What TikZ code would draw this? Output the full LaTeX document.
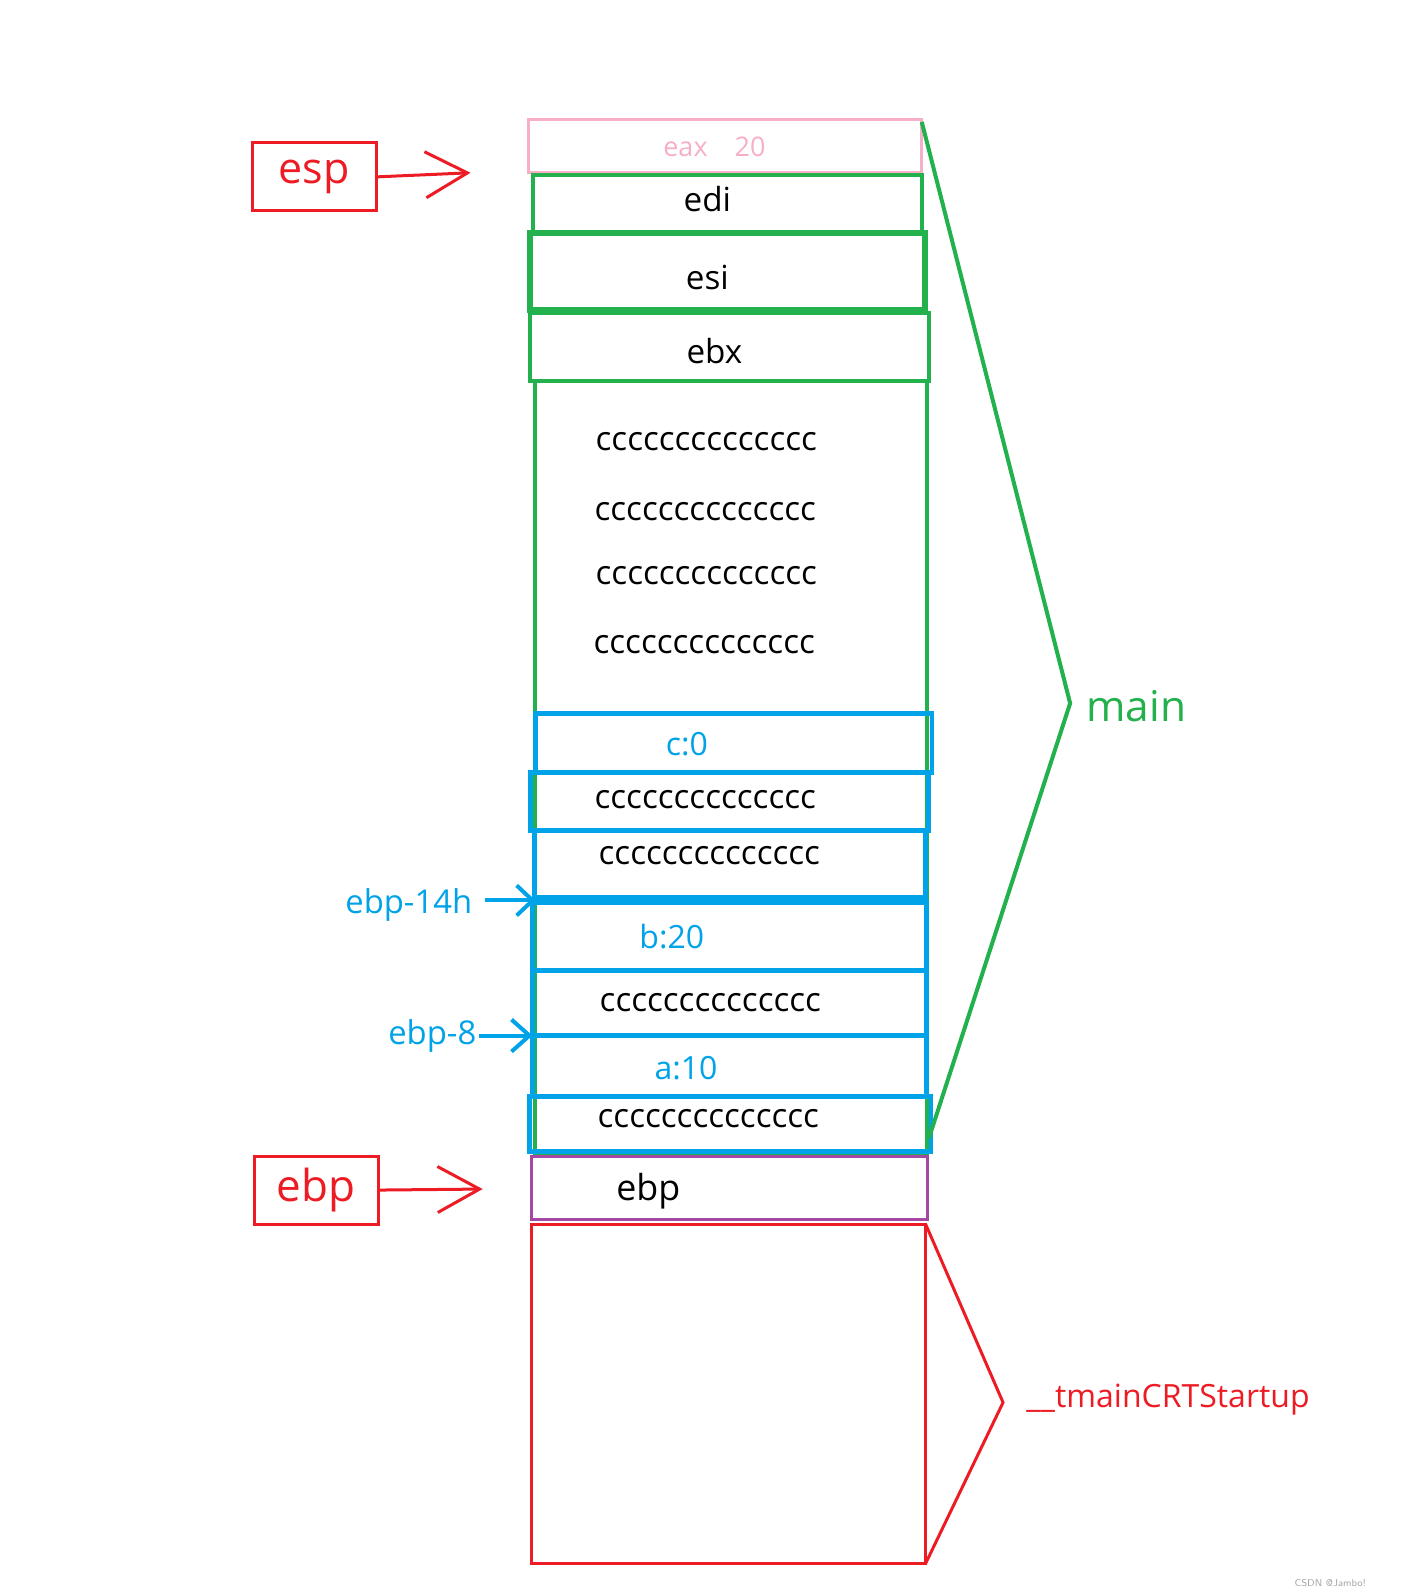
\documentclass[tikz,border=0pt]{standalone}
\usepackage{fontspec}
\setmainfont{Open Sans}
\usetikzlibrary{arrows.meta}
\definecolor{stkgreen}{RGB}{34,177,76}
\definecolor{stkblue}{RGB}{0,162,232}
\definecolor{stkred}{RGB}{237,28,36}
\definecolor{stkpink}{RGB}{247,175,200}
\definecolor{stkpurple}{RGB}{163,73,164}
\tikzset{>={Straight Barb[length=21pt,width=23pt]}}
\tikzset{
  ptrbox/.style={draw=stkred, text=stkred, line width=1.5pt, minimum width=62pt, minimum height=34pt, font=\fontsize{21.5}{25}\selectfont},
  celltext/.style={font=\fontsize{16.6}{19}\selectfont},
  vartext/.style={text=stkblue, font=\fontsize{16}{19}\selectfont},
  offtext/.style={text=stkblue, font=\fontsize{16.4}{19}\selectfont, anchor=east, inner sep=1pt},
  grn/.style={draw=stkgreen, line width=2pt},
  blu/.style={draw=stkblue, line width=2.4pt}
}
\begin{document}
\begin{tikzpicture}[x=0.508pt,y=-0.508pt]
	\useasboundingbox (0,0) rectangle (1377.6,1567.5);
	% main frame
	\draw [stkpink, line width=1.5pt] (520,118) rectangle (907,170);
	\draw [grn] (524,172) rectangle (907,228);
	\draw [grn, line width=3pt] (522,229) rectangle (910,305);
	\draw [grn] (522,308) rectangle (914,375);
	\draw [grn] (526,375) rectangle (912,1136);
	\draw [blu] (527,702) rectangle (917,760);
	\draw [blu] (522,760) rectangle (914,817);
	\draw [blu] (526,817) rectangle (911,883);
	\draw [blu] (524,888) rectangle (912,955);
	\draw [blu] (524,955) rectangle (912,1019);
	\draw [blu] (524,1019) rectangle (912,1079);
	\draw [blu] (521,1079) rectangle (916,1133);
	\draw [stkpurple, line width=1.5pt] (523,1138) rectangle (913,1200);
	\draw [stkred, line width=1.5pt] (523,1205) rectangle (911,1538);
	% braces
	\draw [stkgreen, line width=2pt] (907,120) -- (1053,692) -- (914,1120);
	\draw [stkred, line width=1.5pt] (911,1205) -- (987,1380) -- (911,1538);
	\node [text=stkgreen, anchor=west, font=\fontsize{21.2}{25}\selectfont] (main) at (1062,695) {main};
	\node [text=stkred, anchor=west, font=\fontsize{16}{19}\selectfont] (crt) at (1003,1377) {\_\_tmainCRTStartup};
	% cells
	\node [text=stkpink, font=\fontsize{13.5}{16}\selectfont] (eax) at (703,144) {eax\hspace{1em}20};
	\node [celltext] (edi) at (696,196) {edi};
	\node [celltext] (esi) at (696,273) {esi};
	\node [celltext] (ebx) at (703,345) {ebx};
	\foreach \y/\x in {435/695, 503/694, 566/695, 634/693, 787/694, 842/698, 987/699, 1101/697}
	\node [celltext] (fill\y) at (\x,\y) {cccccccccccccc};
	\node [vartext] (c) at (676,732) {c:0};
	\node [vartext] (b) at (661,922) {b:20};
	\node [vartext] (a) at (675,1051) {a:10};
	\node [celltext, font=\fontsize{17.9}{21}\selectfont] (ebpcell) at (638,1172) {ebp};
	% pointers
	\node [ptrbox] (esp) at (309,174) {esp};
	\coordinate (espat) at (463,170);
	\draw [->, stkred, line width=1.5pt] (esp.east) -- (espat);
	\node [ptrbox, font=\fontsize{22}{26}\selectfont] (ebp) at (311,1171) {ebp};
	\coordinate (ebpat) at (475,1170);
	\draw [->, stkred, line width=1.5pt] (ebp.east) -- (ebpat);
	\node [offtext] (off14) at (467,890) {ebp-14h};
	\coordinate (at14) at (527,886);
	\draw [->, > = {Straight Barb[length=8pt,width=15pt]}, stkblue, line width=2pt] ([xshift=5pt]off14.east |- at14) -- (at14);
	\node [offtext] (off8) at (471,1019) {ebp-8};
	\coordinate (at8) at (524,1019);
	\draw [->, > = {Straight Barb[length=9pt,width=16pt]}, stkblue, line width=2pt] (off8.east) -- (at8);
	\node [text=gray!70, font=\fontsize{5}{6}\selectfont\sffamily] (mark) at (1309,1558) {CSDN @Jambo!};
\end{tikzpicture}
\end{document}
